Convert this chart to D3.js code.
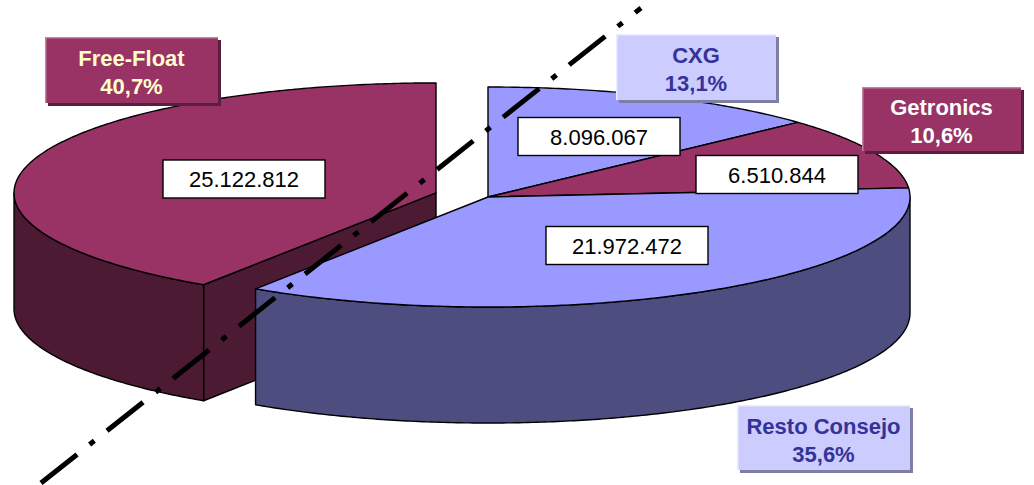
<!DOCTYPE html>
<html>
<head>
<meta charset="utf-8">
<script src="https://cdn.jsdelivr.net/npm/d3@7"></script>
<style>
  body { margin: 0; background: #fff; }
  svg { display: block; }
</style>
</head>
<body>
<div id="chart"></div>
<script>
// data
const categories = ["CXG", "Getronics", "Resto Consejo", "Free-Float"];
const values = [8096067, 6510844, 21972472, 25122812];
const explode = [0, 0, 0, 0.1286];

// colours
const topColors = ["#9999ff", "#993366", "#9999ff", "#993366"];
const sideColors = ["#4d4d80", "#4d1a33", "#4d4d80", "#4d1a33"];
const boxFill = ["#ccccff", "#993366", "#ccccff", "#993366"];
const boxText = ["#333399", "#ffffff", "#333399", "#ffffcc"];
const boxShadow = ["#7f7fa6", "#5a1f3d", "#7f7fa6", "#5a1f3d"];
const boxLight = ["#ececff", "#c480a2", "#ececff", "#c480a2"];

// layout of the label boxes (dragged by hand in the original)
const nameBoxes = [
  {x: 616, y: 34, w: 160, h: 66},
  {x: 862, y: 87, w: 159, h: 64},
  {x: 737, y: 405, w: 173, h: 65},
  {x: 45, y: 37, w: 173, h: 66}
];
const valueBoxes = [
  {cx: 599, cy: 136.5},
  {cx: 777, cy: 174.5},
  {cx: 627, cy: 245.5},
  {cx: 244, cy: 179}
];

const W = 1034, H = 485;
const CX = 488, CY = 197, RX = 422, RY = 110, DEPTH = 116;
const FONT = "'Liberation Sans', Arial, Helvetica, sans-serif";

const loc = d3.formatLocale({decimal: ",", thousands: ".", grouping: [3], currency: ["", ""]});
const fmtValue = loc.format(",d");
const fmtPct = loc.format(".1%");
const total = d3.sum(values);

const svg = d3.select("#chart").append("svg")
  .attr("width", W)
  .attr("height", H)
  .attr("viewBox", `0 0 ${W} ${H}`);

const x = d3.scaleLinear().domain([-1, 1]).range([CX - RX, CX + RX]);
const y = d3.scaleLinear().domain([-1, 1]).range([CY - RY, CY + RY]);

const arcs = d3.pie().sort(null).value(d => d)(values);
const line = d3.line();

const slices = arcs.map((a, i) => {
  const t0 = a.startAngle - Math.PI / 2;
  const t1 = a.endAngle - Math.PI / 2;
  const mid = (t0 + t1) / 2;
  return {
    i, t0, t1, mid,
    ox: explode[i] * Math.cos(mid),
    oy: explode[i] * Math.sin(mid)
  };
});

function pt(s, t, r, dz) {
  return [x(s.ox + r * Math.cos(t)), y(s.oy + r * Math.sin(t)) + dz];
}
function arcPts(s, a0, a1, dz) {
  const n = Math.max(2, Math.ceil(Math.abs(a1 - a0) / 0.01) + 1);
  return d3.range(n).map(k => pt(s, a0 + (a1 - a0) * k / (n - 1), 1, dz));
}

// paint far slices first
const order = slices.slice().sort((a, b) =>
  (a.oy + 0.5 * Math.sin(a.mid)) - (b.oy + 0.5 * Math.sin(b.mid)));

const g = svg.append("g")
  .attr("stroke", "#000")
  .attr("stroke-width", 1.4)
  .attr("stroke-linejoin", "round");

order.forEach(s => {
  const n = slices.length;
  const prev = slices[(s.i + n - 1) % n], next = slices[(s.i + 1) % n];

  // cut faces, only where a gap lets them show
  if ((explode[s.i] > 0 || explode[prev.i] > 0) && Math.cos(s.t0) < -1e-6) {
    const c = pt(s, 0, 0, 0), e = pt(s, s.t0, 1, 0);
    g.append("path")
      .attr("d", line([c, e, [e[0], e[1] + DEPTH], [c[0], c[1] + DEPTH]]) + "Z")
      .attr("fill", sideColors[s.i]);
  }
  if ((explode[s.i] > 0 || explode[next.i] > 0) && Math.cos(s.t1) > 1e-6) {
    const c = pt(s, 0, 0, 0), e = pt(s, s.t1, 1, 0);
    g.append("path")
      .attr("d", line([c, e, [e[0], e[1] + DEPTH], [c[0], c[1] + DEPTH]]) + "Z")
      .attr("fill", sideColors[s.i]);
  }

  // outer wall, front half only
  const a0 = Math.max(s.t0, 0), a1 = Math.min(s.t1, Math.PI);
  if (a1 > a0) {
    const pts = arcPts(s, a0, a1, 0).concat(arcPts(s, a1, a0, DEPTH));
    g.append("path")
      .attr("d", line(pts) + "Z")
      .attr("fill", sideColors[s.i]);
  }

  // top face
  const top = [pt(s, 0, 0, 0)].concat(arcPts(s, s.t0, s.t1, 0));
  g.append("path")
    .attr("d", line(top) + "Z")
    .attr("fill", topColors[s.i]);
});

// dash-dot guide line
const guide = [[41, 483], [641, 8]];
svg.append("path")
  .attr("d", line(guide))
  .attr("fill", "none")
  .attr("stroke", "#000")
  .attr("stroke-width", 5)
  .attr("stroke-dasharray", "46,16,6,16.2");

// value labels
const vb = svg.append("g").selectAll("g")
  .data(values)
  .join("g")
  .attr("transform", (d, i) => `translate(${valueBoxes[i].cx},${valueBoxes[i].cy})`);

vb.append("rect")
  .attr("x", -81).attr("y", -19)
  .attr("width", 162).attr("height", 38)
  .attr("fill", "#fff")
  .attr("stroke", "#000")
  .attr("stroke-width", 1.4);

vb.append("text")
  .attr("text-anchor", "middle")
  .attr("y", 8)
  .style("font-family", FONT)
  .style("font-size", "22px")
  .attr("fill", "#000")
  .text(d => fmtValue(d));

// category + percent boxes
const nb = svg.append("g").selectAll("g")
  .data(categories)
  .join("g");

nb.append("rect")
  .attr("x", (d, i) => nameBoxes[i].x + 3)
  .attr("y", (d, i) => nameBoxes[i].y + 3)
  .attr("width", (d, i) => nameBoxes[i].w)
  .attr("height", (d, i) => nameBoxes[i].h)
  .attr("fill", (d, i) => boxShadow[i]);

nb.append("rect")
  .attr("x", (d, i) => nameBoxes[i].x)
  .attr("y", (d, i) => nameBoxes[i].y)
  .attr("width", (d, i) => nameBoxes[i].w)
  .attr("height", (d, i) => nameBoxes[i].h)
  .attr("fill", (d, i) => boxFill[i]);

nb.append("path")
  .attr("d", (d, i) => {
    const b = nameBoxes[i];
    return line([[b.x + 0.75, b.y + b.h], [b.x + 0.75, b.y + 0.75], [b.x + b.w, b.y + 0.75]]);
  })
  .attr("fill", "none")
  .attr("stroke", (d, i) => boxLight[i])
  .attr("stroke-width", 1.5);

const nt = nb.append("text")
  .attr("text-anchor", "middle")
  .style("font-family", FONT)
  .style("font-size", "22px")
  .style("font-weight", "bold")
  .attr("fill", (d, i) => boxText[i]);

nt.append("tspan")
  .attr("x", (d, i) => nameBoxes[i].x + nameBoxes[i].w / 2)
  .attr("y", (d, i) => nameBoxes[i].y + nameBoxes[i].h / 2 - 4)
  .text(d => d);

nt.append("tspan")
  .attr("x", (d, i) => nameBoxes[i].x + nameBoxes[i].w / 2)
  .attr("y", (d, i) => nameBoxes[i].y + nameBoxes[i].h / 2 + 24)
  .text((d, i) => fmtPct(values[i] / total));
</script>
</body>
</html>
